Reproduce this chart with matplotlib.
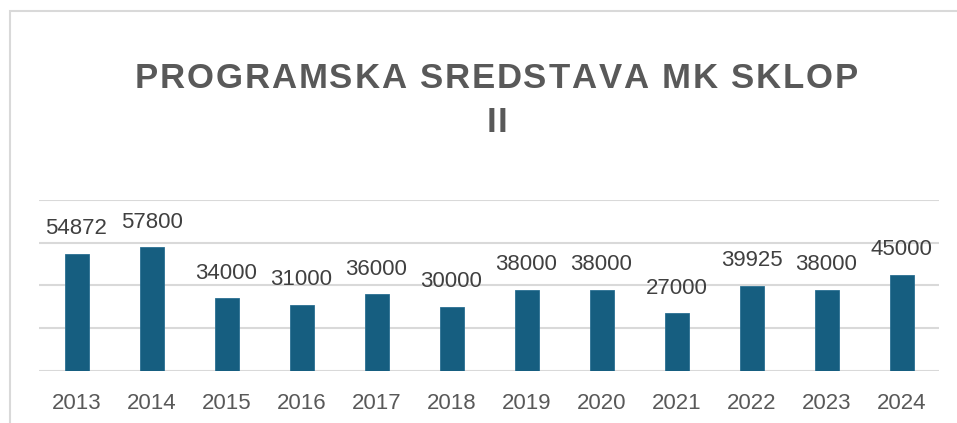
import matplotlib
matplotlib.use("Agg")
import matplotlib.pyplot as plt
from matplotlib.patches import Rectangle
from matplotlib.font_manager import FontProperties, findfont, get_font

years = ["2013", "2014", "2015", "2016", "2017", "2018",
         "2019", "2020", "2021", "2022", "2023", "2024"]
values = [54872, 57800, 34000, 31000, 36000, 30000,
          38000, 38000, 27000, 39925, 38000, 45000]
title_lines = ["PROGRAMSKA SREDSTAVA MK SKLOP", "II"]

W, H = 957, 423
fig = plt.figure(figsize=(W / 100, H / 100), dpi=100)
fig.patch.set_facecolor("white")

# outer frame
fig.patches.append(Rectangle((10 / W, -0.05), 1.2, 1 - 11 / H + 0.05,
                             transform=fig.transFigure, fill=False,
                             edgecolor="#d9d9d9", linewidth=1.5))

ax = fig.add_axes([39 / W, 1 - 371 / H, 900 / W, 171 / H])
x = list(range(len(years)))
ax.bar(x, values, width=0.32, color="#165E80", edgecolor="#2a6f92",
       linewidth=0.6, zorder=3)
ax.set_xlim(-0.5, len(years) - 0.5)
ax.set_ylim(0, 80000)
ax.set_yticks([0, 20000, 40000, 60000, 80000])
ax.yaxis.grid(True, color="#d9d9d9", linewidth=1.5, zorder=0)
ax.tick_params(axis="y", left=False, labelleft=False)
ax.set_xticks(x)
ax.set_xticklabels(years, fontsize=16, color="#595959", family="Liberation Sans")
ax.tick_params(axis="x", length=0, pad=16)
for s in ax.spines.values():
    s.set_visible(False)

for xi, v in zip(x, values):
    ax.annotate(str(v), (xi, v), xytext=(0, 14), textcoords="offset points",
                ha="center", va="baseline", fontsize=16, color="#404040",
                family="Liberation Sans")

# letter-spaced title, placed glyph by glyph using font advances
fp = FontProperties(family="Liberation Sans", weight="bold", size=25)
font = get_font(findfont(fp))
font.set_size(25, 100)


def adv(ch):
    g = font.load_char(ord(ch))
    return g.linearHoriAdvance / 65536.0


target1 = 723.0
line1 = title_lines[0]
nat = sum(adv(c) for c in line1)
track = (target1 - nat) / (len(line1) - 1)
centers = [496.5, 497]
baselines = [88, 132]
for line, cx, by in zip(title_lines, centers, baselines):
    total = sum(adv(c) for c in line) + track * (len(line) - 1)
    px = cx - total / 2
    for ch in line:
        if ch != " ":
            fig.text(px / W, 1 - by / H, ch, fontproperties=fp, color="#595959",
                     ha="left", va="baseline")
        px += adv(ch) + track

fig.savefig("out.png", dpi=100, facecolor="white")
